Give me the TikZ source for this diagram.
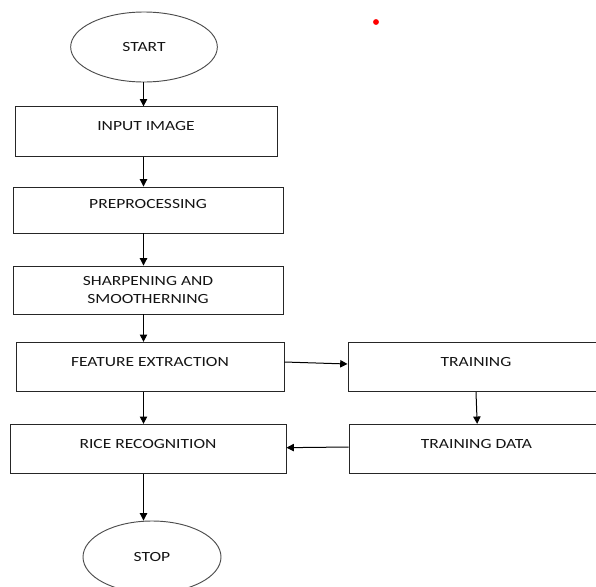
\documentclass[tikz,border=0pt]{standalone}
\usepackage{fontspec}
\usepackage{tikz}
\usetikzlibrary{shapes.geometric, arrows.meta}
\newfontfamily\flowfont{Carlito}[FakeStretch=1.25]

\tikzset{
    stepbox/.style={draw=black!85, line width=0.7pt, inner sep=0pt, text height=18pt, text depth=19pt},
    twobox/.style={draw=black!85, line width=0.7pt, inner sep=0pt, minimum height=36pt, align=center},
    terminal/.style={ellipse, draw=black!70, line width=0.7pt, inner sep=0pt},
    arr/.style={-{Triangle[length=5.5pt, width=5.5pt]}, line width=0.75pt}
}

\begin{document}
\begin{tikzpicture}[x=0.75pt, y=-0.75pt, font=\flowfont\fontsize{10.5}{13.5}\selectfont, text=black!92]
    \useasboundingbox (0,0) rectangle (596,586);
    \coordinate (axis) at (143.5,0);

    \node[terminal, minimum width=110pt, minimum height=52.5pt] (start) at (144,47) {START};
    \node[stepbox, minimum width=196.5pt] (input) at (146,131.5) {INPUT IMAGE};
    \node[stepbox, minimum width=202.5pt, text height=16pt, text depth=18.5pt] (pre) at (148,210) {PREPROCESSING};
    \node[twobox, minimum width=202.5pt] (sharp) at (148,290) {SHARPENING AND\\SMOOTHERNING};
    \node[stepbox, minimum width=201pt] (feat) at (150,367) {FEATURE EXTRACTION};
    \node[stepbox, minimum width=207pt] (rice) at (148,449) {RICE RECOGNITION};
    \node[stepbox, minimum width=192pt] (train) at (476,367) {TRAINING};
    \node[stepbox, minimum width=191.25pt] (tdata) at (476.5,449) {TRAINING DATA};
    \node[terminal, minimum width=103.5pt, minimum height=54pt] (stop) at (152,557) {STOP};

    % red mark
    \fill[red] (376,22) circle (2.2pt);

    \draw[arr] (start.south -| axis) -- (input.north -| axis);
    \draw[arr] (input.south -| axis) -- (pre.north -| axis);
    \draw[arr] (pre.south -| axis) -- (sharp.north -| axis);
    \draw[arr] (sharp.south -| axis) -- (feat.north -| axis);
    \draw[arr] (feat.south -| axis) -- (rice.north -| axis);
    \draw[arr] (rice.south -| axis) -- (stop.north -| axis);
    \draw[arr] ([yshift=3.75pt]feat.east) -- ([yshift=2.25pt]train.west);
    \draw[arr] ([xshift=0pt]train.south) -- ([xshift=0.5pt]tdata.north);
    \draw[arr] ([yshift=1.5pt]tdata.west) -- ([yshift=1pt]rice.east);
\end{tikzpicture}
\end{document}
